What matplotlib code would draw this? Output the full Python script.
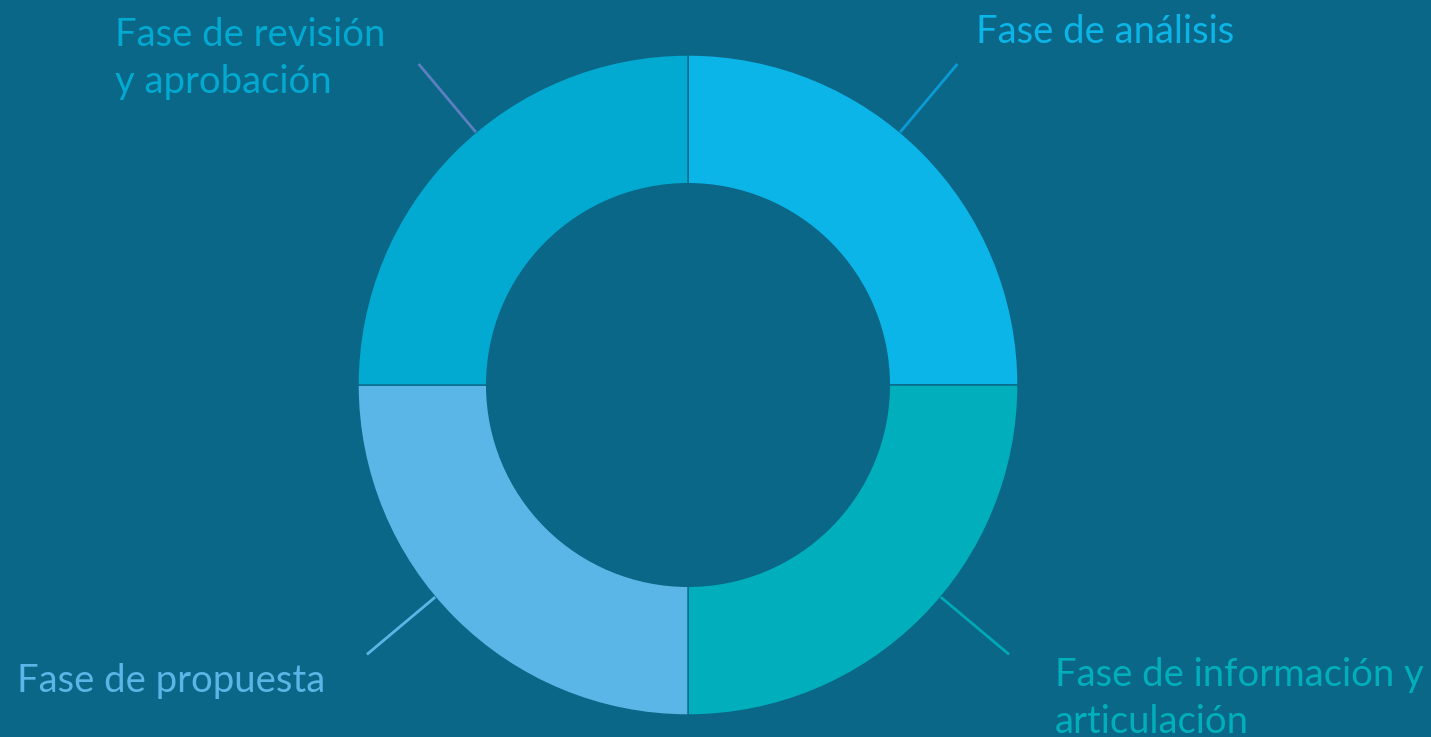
import numpy as np
import matplotlib.pyplot as plt

# Phases of the process (equal share each)
phases = ['Fase de análisis', 'Fase de información y\narticulación',
          'Fase de propuesta', 'Fase de revisión\ny aprobación']
shares = [25, 25, 25, 25]
colors = ['#0BB5E8', '#00AFBB', '#5AB6E6', '#02A9D0']
line_colors = ['#0A9BD6', '#00A9B5', '#5AB6E6', '#5C7FC0']

bg = '#0A6787'
plt.rcParams['font.family'] = ['Lato', 'DejaVu Sans']

fig = plt.figure(figsize=(14.31, 7.37), dpi=100, facecolor=bg)
ax = fig.add_axes([0, 0, 1, 1])
ax.set_facecolor(bg)

wedges, _ = ax.pie(shares, colors=colors, startangle=90, counterclock=False,
                   radius=1.0, wedgeprops=dict(width=0.39, edgecolor=bg, linewidth=1.0))

# one data unit = outer radius = 330 px, centre at (688, 385) px
R = 330.0
ax.set_xlim(-688 / R, (1431 - 688) / R)
ax.set_ylim(-(737 - 385) / R, 385 / R)
ax.set_aspect('equal')
ax.axis('off')

# label offsets in px from the end of each leader line (to last baseline), and alignment
layout = [(19, 21, 'left'), (46, -79, 'left'), (-42, -38, 'right'), (-33, -29, 'right')]

for w, name, c, lc, (dx, dy, ha) in zip(wedges, phases, colors, line_colors, layout):
    mid = np.deg2rad((w.theta1 + w.theta2) / 2)
    ang = mid + np.deg2rad(5) * np.sign(np.cos(mid))
    x0, y0 = np.cos(ang), np.sin(ang)
    x1, y1 = 1.27 * np.cos(ang), 1.27 * np.sin(ang)
    ax.plot([x0, x1], [y0, y1], color=lc, lw=2, solid_capstyle='butt')
    ax.annotate(name, (x1, y1), xytext=(dx * 0.72, dy * 0.72), textcoords='offset points',
                ha=ha, va='baseline', multialignment='left', color=c, fontsize=27.5,
                linespacing=1.38)

fig.savefig('out.png', dpi=100, facecolor=bg)
